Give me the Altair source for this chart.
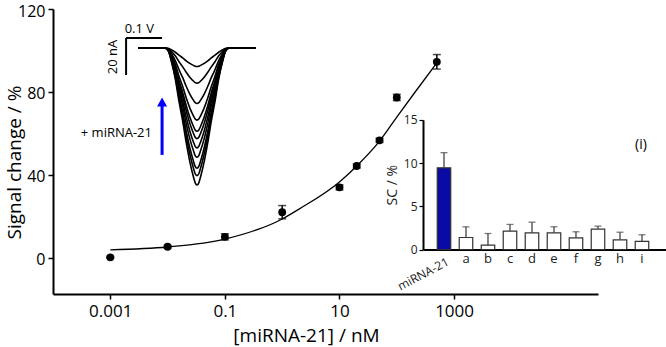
import altair as alt
import pandas as pd

# ---------------- data: titration (main plot) ----------------
conc = [0.001, 0.01, 0.1, 1, 10, 20, 50, 100, 500]
signal = [0.1, 5.2, 10.0, 21.9, 33.9, 44.2, 56.6, 77.3, 94.5]
signal_err = [0.4, 0.6, 1.5, 3.2, 1.2, 1.0, 1.0, 1.5, 3.5]

fit_conc = [0.001, 0.01, 0.1, 1, 2, 10, 20, 50, 100, 200, 500]
fit_signal = [3.7, 5.1, 8.9, 18.6, 23.5, 36.5, 44.2, 56.2, 67.8, 79.2, 94.0]

x_ticks = [0.001, 0.1, 10, 1000]
y_ticks = [0, 40, 80, 120]

# ---------------- data: voltammograms (inset) ----------------
peak_depth = [10, 19, 30, 39, 45, 49, 54, 59, 65, 69, 74]  # nA
shape_offset = [-0.163, -0.090, -0.080, -0.070, -0.060, -0.050, -0.040, -0.030,
                -0.020, -0.010, -0.005, 0.0, 0.005, 0.010, 0.020, 0.030, 0.040,
                0.050, 0.060, 0.070, 0.080, 0.090, 0.163]  # V from peak
shape_rel = [0, 0, 0.02, 0.11, 0.23, 0.39, 0.53, 0.69, 0.83, 0.94, 0.985, 1.0,
             0.985, 0.94, 0.83, 0.69, 0.53, 0.39, 0.23, 0.11, 0.02, 0, 0]
peak_potential = -0.35

# ---------------- data: selectivity (bar inset) ----------------
sel_labels = ["miRNA-21", "a", "b", "c", "d", "e", "f", "g", "h", "i"]
sel_values = [9.45, 1.39, 0.5, 2.12, 1.93, 1.93, 1.35, 2.36, 1.12, 0.93]
sel_err = [1.75, 1.23, 1.35, 0.78, 1.23, 0.70, 0.70, 0.34, 0.88, 0.77]

# ---------------- layout ----------------
L, T, W, H = 53, 9, 545, 285
FONT = "Open Sans"
BLUE = "#0a0aa5"

main_df = pd.DataFrame({"conc": conc, "signal": signal, "err": signal_err})
main_df["lo"] = main_df["signal"] - main_df["err"]
main_df["hi"] = main_df["signal"] + main_df["err"]
fit_df = pd.DataFrame({"conc": fit_conc, "signal": fit_signal})

xs = alt.Scale(type="log", domain=[1e-4, 3.25e5], nice=False)
ys = alt.Scale(domain=[-17.6, 120], nice=False, zero=False)

x_axis = alt.Axis(values=x_ticks, format="~g", grid=False, domainColor="black",
                  domainWidth=2, tickColor="black", tickWidth=1.5, tickSize=5,
                  labelFontSize=17, labelColor="black", labelPadding=4,
                  title="[miRNA-21] / nM", titleFontSize=19, titleFontWeight="normal",
                  titleColor="black", titleX=253, titleY=47, titleBaseline="alphabetic")
y_axis = alt.Axis(values=y_ticks, grid=False, orient="left", domainColor="black",
                  domainWidth=2, tickColor="black", tickWidth=1.5, tickSize=5,
                  labelFontSize=16, labelColor="black", labelPadding=3, labelOffset=2,
                  title="Signal change / %", titleFontSize=19, titleFontWeight="normal",
                  titleColor="black", titleX=-33, titleY=153, titleAngle=270,
                  titleBaseline="alphabetic", titleAlign="center")

base_main = alt.Chart(main_df)
curve = alt.Chart(fit_df).mark_line(color="black", strokeWidth=1.3, interpolate="monotone").encode(
    x=alt.X("conc:Q", scale=xs, axis=x_axis),
    y=alt.Y("signal:Q", scale=ys, axis=y_axis),
)
err_rule = base_main.mark_rule(color="black", strokeWidth=1.5).encode(
    x="conc:Q", y="lo:Q", y2="hi:Q")
cap_hi = base_main.mark_tick(orient="horizontal", color="black", size=8, thickness=1.5).encode(
    x="conc:Q", y="hi:Q")
cap_lo = base_main.mark_tick(orient="horizontal", color="black", size=8, thickness=1.5).encode(
    x="conc:Q", y="lo:Q")
points = base_main.mark_circle(color="black", size=62, opacity=1).encode(
    x="conc:Q", y="signal:Q")
panel_df = pd.DataFrame({"conc": [1.83e6], "signal": [54.4], "t": ["(i)"]})
panel_lbl = alt.Chart(panel_df).mark_text(fontSize=14, color="black", font=FONT).encode(
    x="conc:Q", y="signal:Q", text="t:N")

main = alt.layer(curve, err_rule, cap_hi, cap_lo, points, panel_lbl)

# ---------------- voltammogram inset ----------------
rows = []
for k, d in enumerate(peak_depth):
    for off, rel in zip(shape_offset, shape_rel):
        rows.append({"curve": k, "E": peak_potential + off, "I": -d * rel})
volt_df = pd.DataFrame(rows)

vxs = alt.Scale(domain=[-0.6, -0.1], range=[107 - L, 287 - L], nice=False, zero=False)
vys = alt.Scale(domain=[-80, 10], range=[196 - T, 29.5 - T], nice=False, zero=False)

vlines = alt.Chart(volt_df).mark_line(color="black", strokeWidth=1.6, interpolate="monotone").encode(
    x=alt.X("E:Q", scale=vxs, axis=None),
    y=alt.Y("I:Q", scale=vys, axis=None),
    detail="curve:N",
)
sb_df = pd.DataFrame({"E": [-0.547], "E2": [-0.447], "I": [5.4], "I2": [-14.6]})
sb_h = alt.Chart(sb_df).mark_rule(color="black", strokeWidth=2).encode(
    x="E:Q", x2="E2", y="I:Q")
sb_v = alt.Chart(sb_df).mark_rule(color="black", strokeWidth=2).encode(
    x="E:Q", y="I:Q", y2="I2")
arrow_df = pd.DataFrame({"E": [-0.447], "I": [-57.8], "I2": [-31.0], "Ih": [-29.5]})
shaft = alt.Chart(arrow_df).mark_rule(color="blue", strokeWidth=3).encode(
    x="E:Q", y="I:Q", y2="I2")
head = alt.Chart(arrow_df).mark_point(shape="M-1,0.8L0,-1L1,0.8Z", filled=True,
                                      color="blue", opacity=1, size=100).encode(
    x="E:Q", y="Ih:Q")
txt_df = pd.DataFrame({"E": [-0.475, -0.551, -0.583], "I": [-45.9, 10.5, -4.9],
                       "t": ["+ miRNA-21", "0.1 V", "20 nA"]})
t_plus = alt.Chart(txt_df.iloc[[0]]).mark_text(align="right", baseline="middle", fontSize=13,
                                               color="black", font=FONT).encode(
    x="E:Q", y="I:Q", text="t:N")
t_v = alt.Chart(txt_df.iloc[[1]]).mark_text(align="left", baseline="middle", fontSize=13,
                                            color="black", font=FONT).encode(
    x="E:Q", y="I:Q", text="t:N")
t_na = alt.Chart(txt_df.iloc[[2]]).mark_text(align="center", baseline="middle", fontSize=13,
                                             angle=270, color="black", font=FONT).encode(
    x="E:Q", y="I:Q", text="t:N")
volt = alt.layer(vlines, sb_h, sb_v, shaft, head, t_plus, t_v, t_na)

# ---------------- selectivity bar inset ----------------
sel_df = pd.DataFrame({"label": sel_labels, "value": sel_values, "err": sel_err})
sel_df["top"] = sel_df["value"] + sel_df["err"]
sel_df["zero"] = 0.0

bxs = alt.Scale(domain=sel_labels, range=[423 - L, 666 - L], paddingInner=0.386,
                paddingOuter=0.716, align=0.452)
bys = alt.Scale(domain=[0, 15], range=[249.5 - T, 119.8 - T], nice=False, zero=False)

bx_axis = alt.Axis(orient="bottom", offset=-(T + H - 249.5), ticks=False, grid=False,
                   domainColor="black", domainWidth=2, labelAngle=0, labelFontSize=13,
                   labelColor="#222", labelPadding=3,
                   labelExpr="datum.label == 'miRNA-21' ? '' : datum.label", title=None)
by_axis = alt.Axis(orient="left", offset=-(423 - L), values=[0, 5, 10, 15], grid=False,
                   domainColor="black", domainWidth=2, tickColor="black", tickWidth=1.2,
                   tickSize=4, labelFontSize=12, labelColor="#222", labelPadding=2,
                   title="SC / %", titleFontSize=14, titleFontWeight="normal",
                   titleColor="#222", titlePadding=4)

bars = alt.Chart(sel_df).mark_bar(stroke="#333", strokeWidth=1.2).encode(
    x=alt.X("label:N", scale=bxs, axis=bx_axis, sort=sel_labels),
    y=alt.Y("value:Q", scale=bys, axis=by_axis),
    y2="zero:Q",
    fill=alt.condition(alt.datum.label == "miRNA-21", alt.value(BLUE), alt.value("white")),
)
b_err = alt.Chart(sel_df).mark_rule(color="#444", strokeWidth=1.3).encode(
    x=alt.X("label:N", sort=sel_labels), y="value:Q", y2="top:Q")
b_cap = alt.Chart(sel_df).mark_tick(orient="horizontal", color="#444", size=7,
                                    thickness=1.3).encode(
    x=alt.X("label:N", sort=sel_labels), y="top:Q")
mi_df = pd.DataFrame({"label": ["miRNA-21"], "zero": [0.0], "t": ["miRNA-21"]})
mi_lbl = alt.Chart(mi_df).mark_text(align="right", baseline="middle", angle=332, fontSize=12,
                                    color="#222", font=FONT, dx=-2, dy=12).encode(
    x=alt.X("label:N", sort=sel_labels), y="zero:Q", text="t:N")
barlayer = alt.layer(bars, b_err, b_cap, mi_lbl)

chart = alt.layer(main, volt, barlayer).resolve_scale(
    x="independent", y="independent"
).properties(
    width=W, height=H,
    autosize=alt.AutoSizeParams(type="none"),
    padding={"left": L, "top": T, "right": 666 - L - W, "bottom": 347 - T - H},
).configure(font=FONT).configure_view(stroke=None)

chart.save("out.html", embed_options={"renderer": "svg", "actions": False})
